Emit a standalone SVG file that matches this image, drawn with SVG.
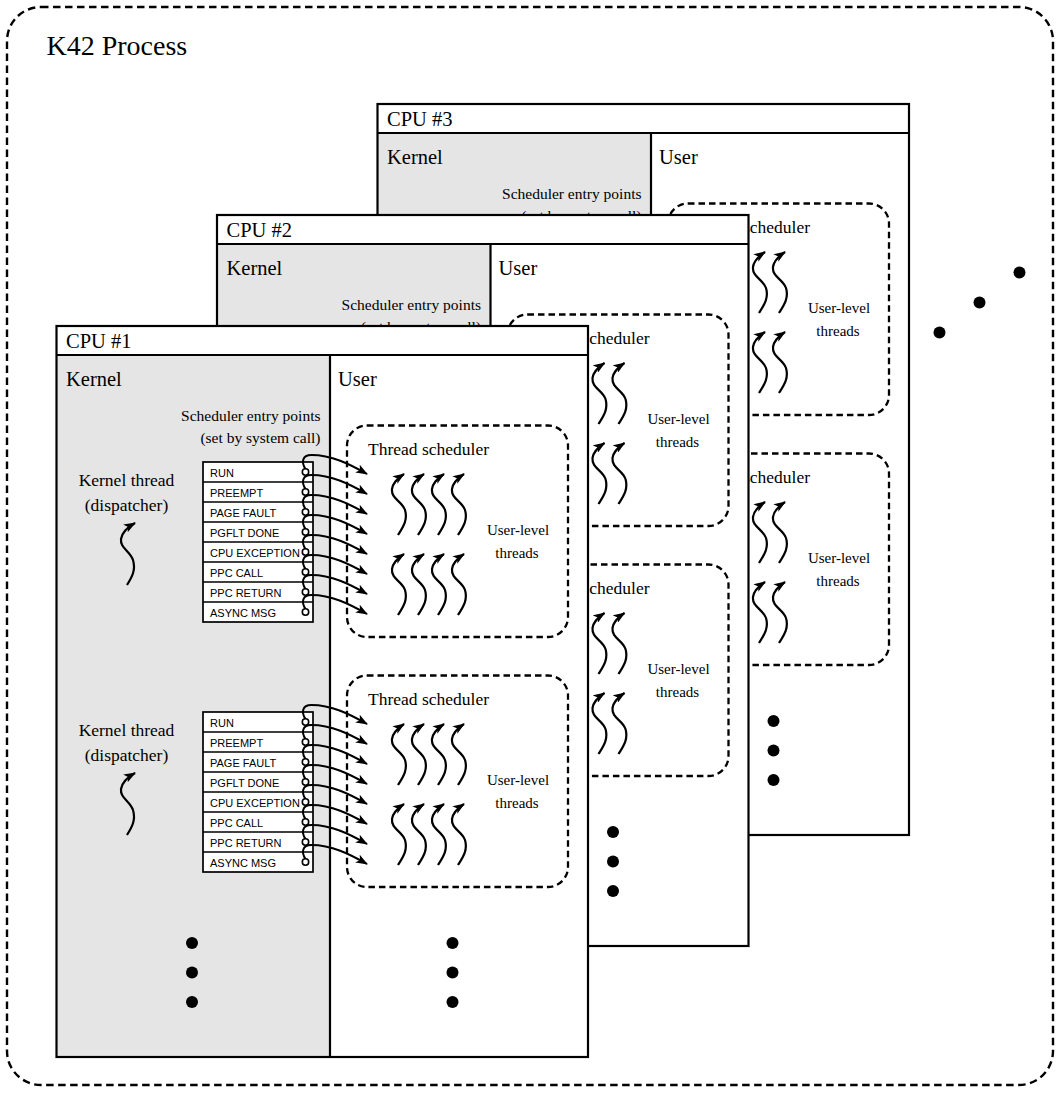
<svg xmlns="http://www.w3.org/2000/svg" xmlns:xlink="http://www.w3.org/1999/xlink" width="1061" height="1093" viewBox="0 0 1061 1093">
<style>
.t{font-family:"Liberation Serif","Times New Roman",serif;fill:#000}
.s{font-family:"Liberation Sans",Arial,sans-serif;font-size:11px;fill:#000}
.box{fill:#fff;stroke:none}
.kern{fill:#e5e5e5}
.outl{fill:none;stroke:#000;stroke-width:2.2}
.ln{fill:none;stroke:#000;stroke-width:1.7}
.dash{fill:none;stroke:#000;stroke-width:2.3;stroke-dasharray:6.5 4}
.odash{fill:none;stroke:#000;stroke-width:2.4;stroke-dasharray:7.5 4.5}
.conn{fill:none;stroke:#000;stroke-width:2;marker-end:url(#ah)}
.sq{fill:none;stroke:#000;stroke-width:2.2;marker-end:url(#ah)}
.circ{fill:#fff;stroke:#000;stroke-width:1.6}
.dot{fill:#000}
</style>
<defs>
<marker id="ah" viewBox="0 0 12 9" refX="11" refY="4.5" markerWidth="12" markerHeight="9" markerUnits="userSpaceOnUse" orient="auto">
<path d="M0,0 L12,4.5 L0,9 L3,4.5 z" fill="#000"/>
</marker>
<path id="sqp" class="sq" d="M0,0 C5,-8 10,-15 7,-25 C4,-34 -7,-36 -6,-46 C-5,-53 0,-57 6,-61"/>
<path id="ksqp" class="sq" d="M0,0 C5,-8 9,-15 6,-25 C3,-34 -7,-37 -6,-46 C-5,-53 1,-58 8,-62"/>
<path id="cnp" class="conn" d="M0,-3 C-4,-9 -4,-17 6,-17 C26,-17 44,-8 61.5,2"/>
<g id="sched-gfx">
<rect class="dash" x="347" y="425.5" width="221" height="211.5" rx="20"/>
<use xlink:href="#sqp" x="398" y="535"/>
<use xlink:href="#sqp" x="418" y="535"/>
<use xlink:href="#sqp" x="438" y="535"/>
<use xlink:href="#sqp" x="458" y="535"/>
<use xlink:href="#sqp" x="398" y="615"/>
<use xlink:href="#sqp" x="418" y="615"/>
<use xlink:href="#sqp" x="438" y="615"/>
<use xlink:href="#sqp" x="458" y="615"/>
</g>
<g id="entry-gfx">
<rect x="203" y="462" width="110" height="160" fill="#fff" stroke="#000" stroke-width="1.7"/>
<path class="ln" d="M203,482H313M203,502H313M203,522H313M203,542H313M203,562H313M203,582H313M203,602H313"/>
<use xlink:href="#cnp" x="305.5" y="472"/>
<use xlink:href="#cnp" x="305.5" y="492"/>
<use xlink:href="#cnp" x="305.5" y="512"/>
<use xlink:href="#cnp" x="305.5" y="532"/>
<use xlink:href="#cnp" x="305.5" y="552"/>
<use xlink:href="#cnp" x="305.5" y="572"/>
<use xlink:href="#cnp" x="305.5" y="592"/>
<use xlink:href="#cnp" x="305.5" y="612"/>
<circle class="circ" cx="305.5" cy="472" r="3.2"/>
<circle class="circ" cx="305.5" cy="492" r="3.2"/>
<circle class="circ" cx="305.5" cy="512" r="3.2"/>
<circle class="circ" cx="305.5" cy="532" r="3.2"/>
<circle class="circ" cx="305.5" cy="552" r="3.2"/>
<circle class="circ" cx="305.5" cy="572" r="3.2"/>
<circle class="circ" cx="305.5" cy="592" r="3.2"/>
<circle class="circ" cx="305.5" cy="612" r="3.2"/>
</g>
<g id="cpu-frame">
<rect class="box" x="56.5" y="326" width="531.5" height="731"/>
<rect class="kern" x="56.5" y="355" width="273.5" height="702"/>
<path class="outl" d="M56.5,355H588M330,355V1057"/>
<rect class="outl" x="56.5" y="326" width="531.5" height="731"/>
</g>
</defs>

<g id="k42-process">
<rect class="odash" x="7" y="7" width="1046" height="1078" rx="34"/>
<text class="t" x="46.5" y="55" font-size="28">K42 Process</text>
</g>

<g id="cpu3" transform="translate(321,-222)">
<use xlink:href="#cpu-frame"/>
<text class="t" x="66" y="348" font-size="20.5">CPU #3</text>
<text class="t" x="66" y="386" font-size="20.5">Kernel</text>
<text class="t" x="338" y="386" font-size="20.5">User</text>
<text class="t" x="320.5" y="420.5" font-size="15.5" text-anchor="end">Scheduler entry points</text>
<text class="t" x="320.5" y="442.5" font-size="15.5" text-anchor="end">(set by system call)</text>
<g id="cpu3-sched1">
<use xlink:href="#sched-gfx"/>
<text class="t" x="368" y="455" font-size="17.5">Thread scheduler</text>
<text class="t" x="518" y="535" font-size="15" text-anchor="middle">User-level</text>
<text class="t" x="517" y="557.5" font-size="15" text-anchor="middle">threads</text>
</g>
<g id="cpu3-sched2" transform="translate(0,250)">
<use xlink:href="#sched-gfx"/>
<text class="t" x="368" y="455" font-size="17.5">Thread scheduler</text>
<text class="t" x="518" y="535" font-size="15" text-anchor="middle">User-level</text>
<text class="t" x="517" y="557.5" font-size="15" text-anchor="middle">threads</text>
</g>
<g id="cpu3-dots">
<circle class="dot" cx="452.5" cy="943" r="6"/>
<circle class="dot" cx="452.5" cy="972.5" r="6"/>
<circle class="dot" cx="452.5" cy="1002" r="6"/>
</g>
</g>

<g id="cpu2" transform="translate(160.5,-111)">
<use xlink:href="#cpu-frame"/>
<text class="t" x="66" y="348" font-size="20.5">CPU #2</text>
<text class="t" x="66" y="386" font-size="20.5">Kernel</text>
<text class="t" x="338" y="386" font-size="20.5">User</text>
<text class="t" x="320.5" y="420.5" font-size="15.5" text-anchor="end">Scheduler entry points</text>
<text class="t" x="320.5" y="442.5" font-size="15.5" text-anchor="end">(set by system call)</text>
<g id="cpu2-sched1">
<use xlink:href="#sched-gfx"/>
<text class="t" x="368" y="455" font-size="17.5">Thread scheduler</text>
<text class="t" x="518" y="535" font-size="15" text-anchor="middle">User-level</text>
<text class="t" x="517" y="557.5" font-size="15" text-anchor="middle">threads</text>
</g>
<g id="cpu2-sched2" transform="translate(0,250)">
<use xlink:href="#sched-gfx"/>
<text class="t" x="368" y="455" font-size="17.5">Thread scheduler</text>
<text class="t" x="518" y="535" font-size="15" text-anchor="middle">User-level</text>
<text class="t" x="517" y="557.5" font-size="15" text-anchor="middle">threads</text>
</g>
<g id="cpu2-dots">
<circle class="dot" cx="452.5" cy="943" r="6"/>
<circle class="dot" cx="452.5" cy="972.5" r="6"/>
<circle class="dot" cx="452.5" cy="1002" r="6"/>
</g>
</g>

<g id="cpu1">
<use xlink:href="#cpu-frame"/>
<text class="t" x="66" y="348" font-size="20.5">CPU #1</text>
<text class="t" x="66" y="386" font-size="20.5">Kernel</text>
<text class="t" x="338" y="386" font-size="20.5">User</text>
<text class="t" x="320.5" y="420.5" font-size="15.5" text-anchor="end">Scheduler entry points</text>
<text class="t" x="320.5" y="442.5" font-size="15.5" text-anchor="end">(set by system call)</text>

<g id="cpu1-group1">
<g id="cpu1-kthread1">
<text class="t" x="126.5" y="486" font-size="17.5" text-anchor="middle">Kernel thread</text>
<text class="t" x="126.5" y="510.5" font-size="17.5" text-anchor="middle">(dispatcher)</text>
<use xlink:href="#ksqp" x="127" y="585"/>
</g>
<g id="cpu1-entries1">
<use xlink:href="#entry-gfx"/>
<text class="s" x="210" y="476.5">RUN</text>
<text class="s" x="210" y="496.5">PREEMPT</text>
<text class="s" x="210" y="516.5">PAGE FAULT</text>
<text class="s" x="210" y="536.5">PGFLT DONE</text>
<text class="s" x="210" y="556.5">CPU EXCEPTION</text>
<text class="s" x="210" y="576.5">PPC CALL</text>
<text class="s" x="210" y="596.5">PPC RETURN</text>
<text class="s" x="210" y="616.5">ASYNC MSG</text>
</g>
<g id="cpu1-sched1">
<use xlink:href="#sched-gfx"/>
<text class="t" x="368" y="455" font-size="17.5">Thread scheduler</text>
<text class="t" x="518" y="535" font-size="15" text-anchor="middle">User-level</text>
<text class="t" x="517" y="557.5" font-size="15" text-anchor="middle">threads</text>
</g>
</g>

<g id="cpu1-group2" transform="translate(0,250)">
<g id="cpu1-kthread2">
<text class="t" x="126.5" y="486" font-size="17.5" text-anchor="middle">Kernel thread</text>
<text class="t" x="126.5" y="510.5" font-size="17.5" text-anchor="middle">(dispatcher)</text>
<use xlink:href="#ksqp" x="127" y="585"/>
</g>
<g id="cpu1-entries2">
<use xlink:href="#entry-gfx"/>
<text class="s" x="210" y="476.5">RUN</text>
<text class="s" x="210" y="496.5">PREEMPT</text>
<text class="s" x="210" y="516.5">PAGE FAULT</text>
<text class="s" x="210" y="536.5">PGFLT DONE</text>
<text class="s" x="210" y="556.5">CPU EXCEPTION</text>
<text class="s" x="210" y="576.5">PPC CALL</text>
<text class="s" x="210" y="596.5">PPC RETURN</text>
<text class="s" x="210" y="616.5">ASYNC MSG</text>
</g>
<g id="cpu1-sched2">
<use xlink:href="#sched-gfx"/>
<text class="t" x="368" y="455" font-size="17.5">Thread scheduler</text>
<text class="t" x="518" y="535" font-size="15" text-anchor="middle">User-level</text>
<text class="t" x="517" y="557.5" font-size="15" text-anchor="middle">threads</text>
</g>
</g>

<g id="cpu1-dots">
<circle class="dot" cx="192" cy="943" r="6"/>
<circle class="dot" cx="192" cy="972.5" r="6"/>
<circle class="dot" cx="192" cy="1002" r="6"/>
<circle class="dot" cx="452.5" cy="943" r="6"/>
<circle class="dot" cx="452.5" cy="972.5" r="6"/>
<circle class="dot" cx="452.5" cy="1002" r="6"/>
</g>
</g>

<g id="more-cpus">
<circle class="dot" cx="1019.5" cy="272.5" r="6"/>
<circle class="dot" cx="979.5" cy="302.5" r="6"/>
<circle class="dot" cx="939.5" cy="332.5" r="6"/>
</g>
</svg>
